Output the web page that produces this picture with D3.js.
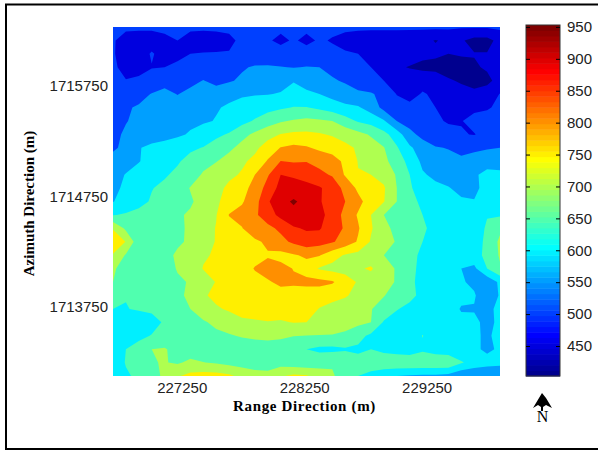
<!DOCTYPE html>
<html>
<head>
<meta charset="utf-8">
<script src="https://cdn.jsdelivr.net/npm/d3@7"></script>
<style>
  html, body { margin: 0; padding: 0; background: #fff; }
  svg { display: block; }
  .tick-text { font-family: "Liberation Sans", sans-serif; font-size: 15px; fill: #222; }
  .axis-title { font-family: "Liberation Serif", serif; font-size: 15px; font-weight: bold; fill: #000; }
</style>
</head>
<body>
<div id="viz"></div>
<script>
// tick labels
const rangeTicks = [227250, 228250, 229250];
const azimuthTicks = [1715750, 1714750, 1713750];
const colorTicks = [950, 900, 850, 800, 750, 700, 650, 600, 550, 500, 450];
const contourLevels = [450, 500, 550, 600, 650, 700, 750, 800, 850, 900, 950];

// extent of the grid in metres, and of the colour bar
const rangeExtent = [226689, 229849];
const azimuthExtent = [1713136, 1716289];
const colorExtent = [403, 953];

// elevation, top row first (north), 31 columns by 27 rows
const elevation = [
  [510,510,510,510,510,510,510,510,510,510,510,510,510,510,510,510,510,510,510,510,510,510,510,510,510,510,510,505,505,505,510],
  [505,480,475,475,490,500,480,475,480,490,510,515,505,490,505,490,505,497,485,475,470,470,470,465,460,448,458,455,435,435,465],
  [505,475,475,505,480,488,500,503,503,503,512,518,520,520,520,518,515,510,505,500,485,475,470,465,460,458,450,455,452,452,460],
  [510,482,485,498,500,510,512,515,520,530,545,555,555,552,548,552,550,538,525,515,500,490,455,448,440,435,430,430,445,455,470],
  [515,502,508,520,530,530,535,552,535,545,558,565,575,585,598,590,570,555,545,525,510,500,480,470,480,480,455,445,435,440,465],
  [520,525,535,552,565,548,565,570,575,590,595,597,598,603,612,605,600,585,570,560,555,535,498,480,505,490,475,465,460,470,502],
  [525,545,555,568,575,580,585,590,597,605,615,625,635,643,652,652,640,625,612,605,580,535,520,515,505,500,485,480,490,495,510],
  [530,548,560,570,578,585,590,595,602,615,635,655,675,695,705,712,708,700,670,645,630,605,550,530,515,505,497,498,515,520,525],
  [540,556,565,575,582,592,605,620,640,655,685,710,735,752,760,760,755,745,735,715,695,665,625,565,535,520,510,503,498,515,525],
  [545,558,597,612,620,630,642,652,670,690,715,740,770,802,812,805,790,780,760,745,720,702,655,608,575,553,548,535,540,545,550],
  [562,582,598,615,628,645,665,685,698,718,742,762,805,851,845,848,835,820,790,748,725,710,680,632,590,575,565,560,570,585,590],
  [585,602,615,630,645,660,680,705,722,740,755,800,845,900,895,885,862,845,795,752,750,735,695,650,605,590,585,580,595,610,605],
  [590,608,625,648,660,680,702,718,735,760,785,815,870,915,915,912,905,880,835,790,765,755,700,655,630,610,602,590,590,615,615],
  [598,620,635,655,670,690,695,715,742,770,795,830,895,930,958,930,905,875,850,815,775,752,700,665,640,625,612,605,602,618,622],
  [648,655,665,670,680,695,705,725,748,802,815,842,875,915,930,925,915,880,835,795,750,700,680,665,650,635,625,615,625,648,645],
  [745,690,665,665,672,690,708,730,752,782,798,835,838,860,895,905,905,870,845,805,755,715,685,668,655,640,625,618,630,655,690],
  [790,748,668,668,670,695,705,735,752,775,795,790,810,835,860,880,870,855,830,795,745,725,695,670,650,635,625,612,630,660,710],
  [745,695,695,680,690,705,722,745,755,770,785,790,795,785,795,808,803,770,745,735,728,700,678,665,640,625,612,612,628,665,705],
  [705,685,665,660,668,705,725,752,765,775,785,802,820,815,798,780,745,735,730,745,755,722,695,660,640,625,610,600,590,650,695],
  [700,665,652,660,680,690,705,730,752,770,790,790,795,810,808,812,815,805,775,745,730,720,695,660,635,615,600,605,590,565,610],
  [665,652,655,660,670,690,710,745,760,772,780,785,785,782,780,775,770,765,755,735,715,702,680,660,640,625,615,610,605,565,605],
  [650,648,655,658,662,685,700,725,745,755,765,770,775,775,775,768,748,735,725,720,702,680,652,640,630,625,618,597,597,590,610],
  [640,625,620,635,655,665,680,695,710,730,742,745,748,745,752,750,735,728,720,712,700,645,635,630,625,620,615,610,608,590,608],
  [625,620,640,652,655,668,680,690,690,695,705,712,715,712,702,699,698,697,690,665,640,625,620,615,652,615,612,610,605,595,610],
  [610,650,665,700,705,680,680,675,670,668,665,670,672,665,660,650,640,638,645,642,650,640,625,620,640,625,620,615,610,590,608],
  [600,655,665,698,702,695,708,701,695,685,680,675,670,680,670,665,680,695,680,665,668,675,690,690,690,690,690,655,630,620,615],
  [605,640,665,690,705,745,765,770,770,760,735,720,720,745,760,755,725,705,680,650,640,625,600,595,590,590,585,560,555,550,550]
];

// page geometry
const width = 598, height = 450;
const plot = { left: 113, right: 500, top: 27, bottom: 376 };
const bar = { left: 526, right: 560, top: 25, bottom: 376 };

const svg = d3.select("#viz")
  .append("svg")
  .attr("width", width)
  .attr("height", height);

// the black sheet border, open on the right
svg.append("path")
  .attr("d", "M598,4.5 H6 V449 H598")
  .attr("fill", "none")
  .attr("stroke", "#000")
  .attr("stroke-width", 2);

const x = d3.scaleLinear().domain(rangeExtent).range([plot.left, plot.right]);
const y = d3.scaleLinear().domain(azimuthExtent).range([plot.bottom, plot.top]);

// MATLAB jet, 64 steps
function jet(i) {
  let r, g, b;
  r = i < 24 ? 0 : i < 40 ? (i - 23) / 16 : i < 56 ? 1 : 1 - (i - 55) / 16;
  g = i < 8 ? 0 : i < 24 ? (i - 7) / 16 : i < 40 ? 1 : i < 56 ? 1 - (i - 39) / 16 : 0;
  b = i < 8 ? (i + 9) / 16 : i < 24 ? 1 : i < 40 ? 1 - (i - 23) / 16 : 0;
  return d3.rgb(r * 255, g * 255, b * 255).formatHex();
}
const colorIndex = d3.scaleLinear().domain(colorExtent).range([0, 64]).clamp(true);
const colorOf = v => jet(Math.min(63, Math.floor(colorIndex(v))));

// filled contours
const nRows = elevation.length, nCols = elevation[0].length;
const gridX = d3.scaleLinear().domain([0.5, nCols - 0.5]).range(rangeExtent);
const gridY = d3.scaleLinear().domain([0.5, nRows - 0.5]).range([azimuthExtent[1], azimuthExtent[0]]);

const contours = d3.contours()
  .size([nCols, nRows])
  .thresholds(contourLevels)(elevation.flat());

const project = d3.geoTransform({
  point(px, py) { this.stream.point(x(gridX(px)), y(gridY(py))); }
});
const contourPath = d3.geoPath(project);

svg.append("defs").append("clipPath").attr("id", "plot-clip")
  .append("rect")
  .attr("x", plot.left).attr("y", plot.top)
  .attr("width", plot.right - plot.left).attr("height", plot.bottom - plot.top);

const map = svg.append("g").attr("clip-path", "url(#plot-clip)");

map.append("rect")
  .attr("x", plot.left).attr("y", plot.top)
  .attr("width", plot.right - plot.left).attr("height", plot.bottom - plot.top)
  .attr("fill", colorOf(colorExtent[0]));

map.selectAll("path")
  .data(contours)
  .enter().append("path")
  .attr("d", contourPath)
  .attr("fill", d => colorOf(d.value));

// axes, only the labels show
const xAxis = svg.append("g")
  .attr("transform", `translate(0,${plot.bottom})`)
  .call(d3.axisBottom(x).tickValues(rangeTicks).tickSize(0).tickPadding(6).tickFormat(d3.format("d")));
const yAxis = svg.append("g")
  .attr("transform", `translate(${plot.left},-1)`)
  .call(d3.axisLeft(y).tickValues(azimuthTicks).tickSize(0).tickPadding(5).tickFormat(d3.format("d")));
xAxis.select(".domain").remove();
yAxis.select(".domain").remove();
svg.selectAll(".tick text").attr("class", "tick-text").attr("font-family", null).attr("font-size", null);

svg.append("text")
  .attr("class", "axis-title")
  .attr("x", 304.5).attr("y", 411)
  .attr("text-anchor", "middle")
  .attr("letter-spacing", "0.65px")
  .text("Range Direction (m)");

svg.append("text")
  .attr("class", "axis-title")
  .attr("transform", "translate(34,203.5) rotate(-90)")
  .attr("text-anchor", "middle")
  .text("Azimuth Direction (m)");

// colour bar
const barY = d3.scaleLinear().domain(colorExtent).range([bar.bottom, 25]);
const barSteps = d3.range(64);
const stepValue = d3.scaleLinear().domain([0, 64]).range(colorExtent);

svg.append("g").selectAll("rect")
  .data(barSteps)
  .enter().append("rect")
  .attr("x", bar.left)
  .attr("width", bar.right - bar.left)
  .attr("y", d => barY(stepValue(d + 1)))
  .attr("height", d => barY(stepValue(d)) - barY(stepValue(d + 1)) + 0.5)
  .attr("fill", d => jet(d));

svg.append("rect")
  .attr("x", bar.left).attr("y", bar.top)
  .attr("width", bar.right - bar.left).attr("height", bar.bottom - bar.top)
  .attr("fill", "none").attr("stroke", "#333").attr("stroke-width", 1);

const barAxis = svg.append("g")
  .attr("transform", `translate(${bar.right},0)`)
  .call(d3.axisRight(barY).tickValues(colorTicks).tickSize(-4).tickPadding(7).tickFormat(d3.format("d")));
barAxis.select(".domain").remove();
barAxis.selectAll(".tick line").attr("stroke", "#000");
barAxis.selectAll(".tick text").attr("class", "tick-text").attr("font-family", null).attr("font-size", null);

// inner ticks on the left side of the bar
svg.append("g").selectAll("line")
  .data(colorTicks)
  .enter().append("line")
  .attr("x1", bar.left).attr("x2", bar.left + 4)
  .attr("y1", d => barY(d) + 0.5).attr("y2", d => barY(d) + 0.5)
  .attr("stroke", "#000");

// north arrow
svg.append("path")
  .attr("d", "M542,393 L546,398 L549,403 L552,408 L546,405 L543,407 L543,411 L541,411 L541,407 L538,405 L533,408 L536,403 L539,398 Z")
  .attr("fill", "#000");

svg.append("text")
  .attr("x", 542.5).attr("y", 422)
  .attr("text-anchor", "middle")
  .attr("font-family", "Liberation Serif, serif")
  .attr("font-size", 16)
  .attr("fill", "#000")
  .text("N");
</script>
</body>
</html>
